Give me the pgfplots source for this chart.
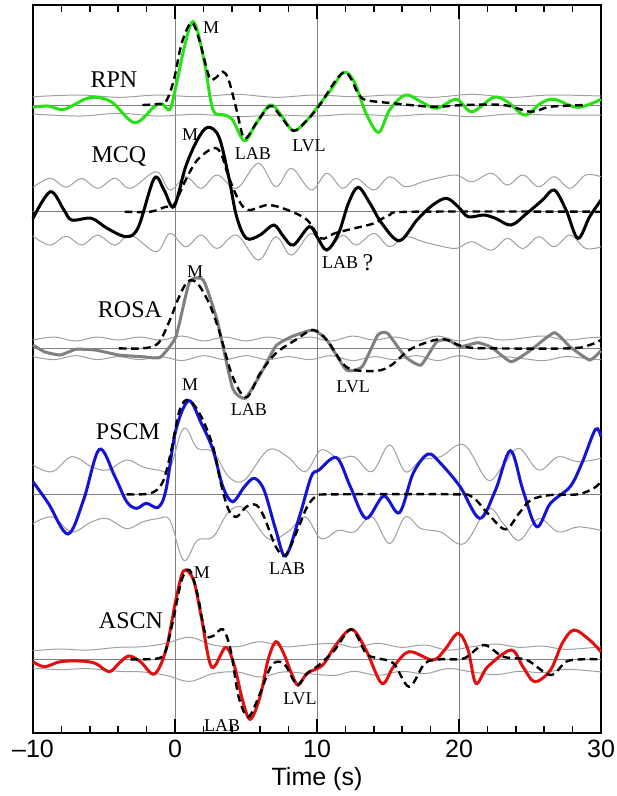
\documentclass[border=0pt]{standalone}
\usepackage{fontspec}
\setmainfont{Liberation Serif}
\setsansfont{Liberation Sans}
\usepackage{pgfplots}
\pgfplotsset{compat=1.18}

\definecolor{rpn}{RGB}{40,225,20}
\definecolor{rosa}{RGB}{128,128,128}
\definecolor{pscm}{RGB}{20,20,210}
\definecolor{ascn}{RGB}{225,15,15}

\tikzset{
  env/.style={gray!75, line width=0.5pt, smooth, tension=0.6},
  base/.style={gray, line width=0.45pt},
  trace/.style={line width=1.5pt, smooth, tension=0.55},
  syn/.style={black, line width=1.2pt, dash pattern=on 3.8pt off 2.3pt, smooth, tension=0.55},
  stn/.style={font=\fontsize{12}{14}\selectfont},
  ph/.style={font=\fontsize{9}{10}\selectfont},
}

\begin{document}
\begin{tikzpicture}
\begin{axis}[
    scale only axis,
    width=284pt, height=364pt,
    xmin=-10, xmax=30,
    ymin=5, ymax=733, y dir=reverse,
    xtick={-10,0,10,20,30},
    xticklabels={\textendash10,0,10,20,30},
    minor x tick num=4,
    ytick=\empty,
    xmajorgrids,
    major grid style={gray, line width=0.4pt},
    major tick length=7pt, minor tick length=3.5pt,
    tick style={black, line width=0.8pt},
    axis line style={line width=1pt},
    xticklabel style={font=\sffamily\fontsize{12.5}{14}\selectfont},
    xlabel={Time (s)},
    xlabel style={font=\sffamily\fontsize{12.5}{14}\selectfont, yshift=2pt},
    clip=false,
]
% ---------------- RPN ----------------
\addplot[base] coordinates {(-10,105) (30,105)};
\addplot[env] coordinates {(-10,96.7) (-6.71,95) (-3.95,97.3) (-1.19,95) (1.57,96.7) (4.34,94.3) (7.10,97.3) (9.86,95) (12.62,96.7) (15.39,95) (18.15,97.3) (20.91,94.3) (23.67,97.3) (26.44,95) (30,96)};
\addplot[env] coordinates {(-10,114) (-6.71,116) (-3.95,113.3) (-1.19,116) (1.57,114.3) (4.34,116.7) (7.10,115) (9.86,116) (12.62,114) (15.39,116) (18.15,114) (20.91,116.7) (23.67,114) (26.44,115) (30,115)};
\addplot[trace, rpn] coordinates {(-10,107.3) (-8.92,106) (-7.82,109.3) (-6.02,97.7) (-4.50,101.7) (-2.85,122.7) (-1.46,106.7) (-0.91,104) (-0.36,109.3) (0.06,86.7) (0.61,50) (1.16,22.7) (1.57,30) (2.13,66.7) (2.68,110) (3.51,115) (4.06,120) (4.89,140.7) (5.72,123.3) (6.69,105) (7.38,113.3) (8.34,130.7) (9.31,120) (10.14,105) (10.97,90) (11.88,72.3) (12.62,81.7) (13.45,113.3) (14.34,132.3) (15.11,110) (16.22,95) (17.32,101.7) (18.43,108.3) (19.81,99.3) (20.91,111.7) (22.43,97.3) (23.40,101.7) (24.64,115) (25.75,103.3) (26.71,99.3) (28.37,107.3) (30,99.3)};
\addplot[syn] coordinates {(-2.29,105) (-1.19,104) (-0.64,101.7) (-0.08,80) (0.47,43.3) (1.16,22.7) (1.71,40) (2.40,76.7) (2.82,78.3) (3.37,71.7) (3.78,80) (4.34,110) (4.89,138.3) (5.72,123.3) (6.69,106) (7.38,115) (8.34,130.7) (9.31,120) (10.14,106) (11.88,72.3) (12.90,93.3) (13.45,100) (15.39,103.3) (18.15,106.7) (20.36,105) (23.12,105) (25.06,111.7) (26.44,106.7) (28.92,105)};
\node[stn] at (axis cs:-4.3,80) {RPN};
\node[ph] at (axis cs:2.54,28) {M};
\node[ph] at (axis cs:5.49,154) {LAB};
\node[ph] at (axis cs:9.44,146) {LVL};
% ---------------- MCQ ----------------
\addplot[base] coordinates {(-10,211.7) (30,211.7)};
\addplot[env] coordinates {(-10,187.3) (-8.78,178.3) (-7.68,187.3) (-6.57,178.3) (-5.47,188.3) (-4.23,178.3) (-3.12,188.3) (-1.33,171.7) (-0.36,190) (0.75,176.7) (1.85,188.3) (2.96,175) (4.34,188.3) (5.86,163.3) (7.10,186.7) (8.20,168.3) (9.59,190) (10.69,173.3) (11.80,188.3) (12.76,178.3) (14.01,190) (15.11,176.7) (16.22,186.7) (17.46,181.7) (18.43,178.3) (19.81,175) (20.91,181.7) (22.29,173.3) (23.40,185) (24.50,175) (25.61,186.7) (26.71,176.7) (27.82,188.3) (28.92,175) (30,176.7)};
\addplot[env] coordinates {(-10,236.1) (-8.78,245.1) (-7.68,236.1) (-6.57,245.1) (-5.47,235.1) (-4.23,245.1) (-3.12,235.1) (-1.33,251.7) (-0.36,233.4) (0.75,246.7) (1.85,235.1) (2.96,248.4) (4.34,235.1) (5.86,260.1) (7.10,236.7) (8.20,255.1) (9.59,233.4) (10.69,250.1) (11.80,235.1) (12.76,245.1) (14.01,233.4) (15.11,246.7) (16.22,236.7) (17.46,241.7) (18.43,245.1) (19.81,248.4) (20.91,241.7) (22.29,250.1) (23.40,238.4) (24.50,248.4) (25.61,236.7) (26.71,246.7) (27.82,235.1) (28.92,248.4) (30,246.7)};
\addplot[trace, black] coordinates {(-10,218.3) (-8.78,191.7) (-7.82,210) (-7.27,220) (-5.88,218.3) (-4.78,228.3) (-3.40,236.7) (-2.57,226.7) (-1.46,178.3) (-0.77,190) (-0.08,206.7) (0.75,166.7) (1.57,140) (2.30,127.3) (3.09,136.7) (3.78,176.7) (4.34,216.7) (5.03,238.3) (5.99,235) (6.96,225) (7.65,236.7) (8.34,245) (9.45,226.7) (10.0,236.7) (10.69,250) (11.52,233.3) (12.21,203.3) (12.90,187.3) (13.73,203.3) (14.56,223.3) (15.80,240.7) (17.04,220) (18.15,205) (19.12,198.3) (19.94,206.7) (20.64,216.7) (21.74,215) (22.57,218.3) (23.67,225) (24.78,213.3) (25.88,200) (26.71,190) (27.54,210) (28.37,238.3) (29.20,216.7) (30,200)};
\addplot[syn] coordinates {(-3.54,211.7) (-1.74,211.7) (-0.64,206.7) (-0.08,205) (0.75,180) (1.57,160) (2.68,148.3) (3.23,153.3) (3.78,176.7) (4.48,200) (5.17,210) (6.55,205) (7.93,210) (9.31,220) (10.28,238.3) (11.24,233.3) (12.62,228.3) (14.01,223.3) (15.11,215) (16.77,211.7) (30,211.7)};
\node[stn] at (axis cs:-3.95,156) {MCQ};
\node[ph] at (axis cs:1.06,135) {M};
\node[ph] at (axis cs:11.62,263) {LAB};
\node[stn] at (axis cs:13.59,263) {?};
% ---------------- ROSA ----------------
\addplot[base] coordinates {(-10,348.3) (30,348.3)};
\addplot[env] coordinates {(-10,340) (-8.5,337) (-7,341) (-5.5,337) (-4,340) (-2.5,337) (-1,340) (0.5,336) (2,341) (3.5,337) (5,341) (6.5,337) (8,340) (9.5,337) (11,341) (12.5,336) (14,340) (15.5,337) (17,341) (18.5,336) (20,341) (21.5,337) (23,340) (24.5,338) (26,336) (27.5,340) (29,338) (30,337)};
\addplot[env] coordinates {(-10,356.6) (-8.5,359.6) (-7,355.6) (-5.5,359.6) (-4,356.6) (-2.5,359.6) (-1,356.6) (0.5,360.6) (2,355.6) (3.5,359.6) (5,355.6) (6.5,359.6) (8,356.6) (9.5,359.6) (11,355.6) (12.5,360.6) (14,356.6) (15.5,359.6) (17,355.6) (18.5,360.6) (20,355.6) (21.5,359.6) (23,356.6) (24.5,358.6) (26,360.6) (27.5,356.6) (29,358.6) (30,359.6)};
\addplot[trace, rosa, tension=0.3] coordinates {(-10,345) (-9.20,351.7) (-8.09,355) (-6.99,349.3) (-5.61,350) (-3.95,355) (-2.29,356.7) (-1.05,357.3) (0.06,336.7) (1.02,281.7) (1.99,280) (2.96,320) (4.06,388.3) (4.94,398.3) (5.99,375) (7.10,346) (8.20,336.7) (9.72,330) (10.69,340) (12.07,370) (13.18,366.7) (14.28,335) (14.97,333.3) (16.22,356.7) (17.32,365) (18.43,341.7) (19.25,340) (20.08,346.7) (21.33,342.7) (22.29,347.3) (23.67,361.7) (25.06,350) (26.71,332.7) (27.82,346.7) (29.20,360) (30,350.7)};
\addplot[syn] coordinates {(-3.95,348.3) (-2.29,348.3) (-1.19,343.3) (-0.36,320) (0.19,300) (0.88,281.7) (1.57,283.3) (2.40,303.3) (3.09,330) (4.06,376.7) (5.03,397.3) (5.99,373.3) (7.10,353.3) (8.48,340) (9.72,330) (10.69,340) (11.80,363.3) (12.62,370) (14.28,370.7) (15.25,365) (16.49,350) (17.87,341.7) (18.98,339.3) (20.36,346.7) (22.29,348.3) (27.82,348.3) (29.20,345) (30,340)};
\node[stn] at (axis cs:-3.17,310) {ROSA};
\node[ph] at (axis cs:1.41,272) {M};
\node[ph] at (axis cs:5.21,410) {LAB};
\node[ph] at (axis cs:12.54,387) {LVL};
% ---------------- PSCM ----------------
\addplot[base] coordinates {(-10,494.3) (30,494.3)};
\addplot[env] coordinates {(-10,465) (-8.65,471.7) (-7.27,456.7) (-5.88,466.7) (-4.78,470) (-3.40,460) (-2.29,466.7) (-1.19,470) (-0.36,468.3) (0.61,428.3) (1.57,448.3) (2.68,451.7) (3.78,476.7) (4.89,480) (6.55,450) (7.93,456.7) (9.17,471.7) (10.28,450) (11.52,458.3) (12.62,456.7) (13.87,471.7) (15.11,445) (16.22,471.7) (17.32,460) (18.70,456.7) (20.36,445) (22.02,480) (23.12,465) (24.23,448.3) (25.61,470) (26.99,456.7) (28.37,461.7) (30,458.3)};
\addplot[env] coordinates {(-10,523.6) (-8.65,516.9) (-7.27,531.9) (-5.88,521.9) (-4.78,518.6) (-3.40,528.6) (-2.29,521.9) (-1.19,518.6) (-0.36,520.3) (0.61,560.3) (1.57,540.3) (2.68,536.9) (3.78,511.9) (4.89,508.6) (6.55,538.6) (7.93,531.9) (9.17,516.9) (10.28,538.6) (11.52,530.3) (12.62,531.9) (13.87,516.9) (15.11,543.6) (16.22,516.9) (17.32,528.6) (18.70,531.9) (20.36,543.6) (22.02,508.6) (23.12,523.6) (24.23,540.3) (25.61,518.6) (26.99,531.9) (28.37,526.9) (30,530.3)};
\addplot[trace, pscm] coordinates {(-10,481.7) (-8.92,503.3) (-7.54,534) (-6.44,500) (-5.33,449.3) (-4.23,476.7) (-3.40,501.7) (-2.71,508.3) (-2.02,503.3) (-1.19,507.3) (-0.64,490) (0.06,430) (0.97,400.7) (1.85,423.3) (2.68,450) (3.37,486.7) (4.06,501.7) (4.89,486.7) (5.58,478.3) (6.27,490) (7.10,530) (7.79,556) (8.76,516.7) (9.59,476.7) (10.14,470) (11.38,457.7) (12.35,486.7) (13.45,518.3) (14.70,496) (15.80,512.7) (16.77,473.3) (17.82,454) (18.70,463.3) (20.08,486.7) (21.46,518.3) (22.57,490) (23.62,450.7) (24.50,490) (25.47,526.7) (26.44,503.3) (27.82,486.7) (28.65,463.3) (29.61,429.3) (30,436.7)};
\addplot[syn] coordinates {(-3.40,494.3) (-1.74,493.3) (-0.91,483.3) (-0.36,456.7) (0.33,410) (0.97,400) (1.85,416.7) (2.68,446.7) (3.23,483.3) (3.78,510) (4.34,516.7) (5.03,506.7) (5.72,505) (6.27,516.7) (7.10,546.7) (7.79,555) (8.62,530) (9.31,506.7) (10.0,496) (11.24,494.3) (19.53,494.3) (20.91,496.7) (22.02,513.3) (23.26,529.3) (24.23,513.3) (25.06,500) (26.44,495) (28.37,494.3) (29.48,488.3) (30,481.7)};
\node[stn] at (axis cs:-3.31,432) {PSCM};
\node[ph] at (axis cs:1.06,385) {M};
\node[ph] at (axis cs:7.89,569) {LAB};
% ---------------- ASCN ----------------
\addplot[base] coordinates {(-10,659.3) (30,659.3)};
\addplot[env] coordinates {(-10,650.7) (-8.09,649) (-6.16,650) (-3.95,647.3) (-2.29,646.7) (-0.64,643.3) (1.02,637.3) (2.68,645) (4.34,646.7) (5.99,641.7) (7.65,646.7) (9.31,645) (11.24,643.3) (12.62,647.3) (14.28,643.3) (15.94,647.3) (17.60,645) (19.25,650) (20.91,646.7) (22.57,644) (24.23,647.3) (25.88,646) (27.54,649.3) (30,646.7)};
\addplot[env] coordinates {(-10,667.9) (-8.09,669.6) (-6.16,668.6) (-3.95,671.3) (-2.29,671.9) (-0.64,675.3) (1.02,681.3) (2.68,673.6) (4.34,671.9) (5.99,676.9) (7.65,671.9) (9.31,673.6) (11.24,675.3) (12.62,671.3) (14.28,675.3) (15.94,671.3) (17.60,673.6) (19.25,668.6) (20.91,671.9) (22.57,674.6) (24.23,671.3) (25.88,672.6) (27.54,669.3) (30,671.9)};
\addplot[trace, ascn] coordinates {(-10,661.7) (-9.20,666.7) (-8.09,661.7) (-6.71,661) (-5.61,663.3) (-4.64,671.7) (-3.95,663.3) (-3.26,656) (-2.43,661.7) (-1.46,674) (-0.64,650) (0.06,600) (0.61,570.7) (1.30,580) (1.85,616.7) (2.58,667) (3.57,647.3) (4.20,666.7) (4.75,700) (5.30,719.3) (5.99,696.7) (6.55,660) (7.10,641.7) (7.65,653.3) (8.20,673.3) (8.67,685) (9.31,673.3) (10.41,665) (11.24,646.7) (12.43,629.3) (13.45,650) (14.56,683.3) (15.39,666.7) (16.49,651.7) (18.15,660) (18.98,650) (19.94,633.3) (20.64,650) (21.19,683.3) (22.02,666.7) (23.67,650) (24.50,666.7) (25.33,681.7) (26.44,670) (27.27,643.3) (28.09,630) (29.20,640) (30,651.7)};
\addplot[syn] coordinates {(-3.12,659.3) (-1.19,658.3) (-0.64,650) (-0.08,616.7) (0.47,580) (1.02,570) (1.57,593.3) (2.13,633.3) (2.68,636) (3.37,629.3) (3.92,650) (4.48,696.7) (5.17,716.7) (5.99,693.3) (6.82,665) (7.65,663.3) (8.34,680) (8.67,685) (9.31,673.3) (10.14,665) (11.24,650) (12.43,629.3) (13.45,653.3) (14.28,658.3) (15.39,663.3) (16.49,686.7) (17.60,663.3) (18.70,659.3) (20.36,658.3) (21.74,645) (23.12,656.7) (24.78,660) (26.44,675) (27.54,661.7) (28.65,659.3) (30,659.3)};
\node[stn] at (axis cs:-3.10,621) {ASCN};
\node[ph] at (axis cs:1.90,573) {M};
\node[ph] at (axis cs:3.31,726) {LAB};
\node[ph] at (axis cs:8.80,699) {LVL};
% picture frame
\coordinate (bbsw) at (rel axis cs:-0.0581,-0.0865);
\coordinate (bbne) at (rel axis cs:1.028,1.0069);
\end{axis}
\pgfresetboundingbox
\useasboundingbox (bbsw) rectangle (bbne);
\end{tikzpicture}
\end{document}
